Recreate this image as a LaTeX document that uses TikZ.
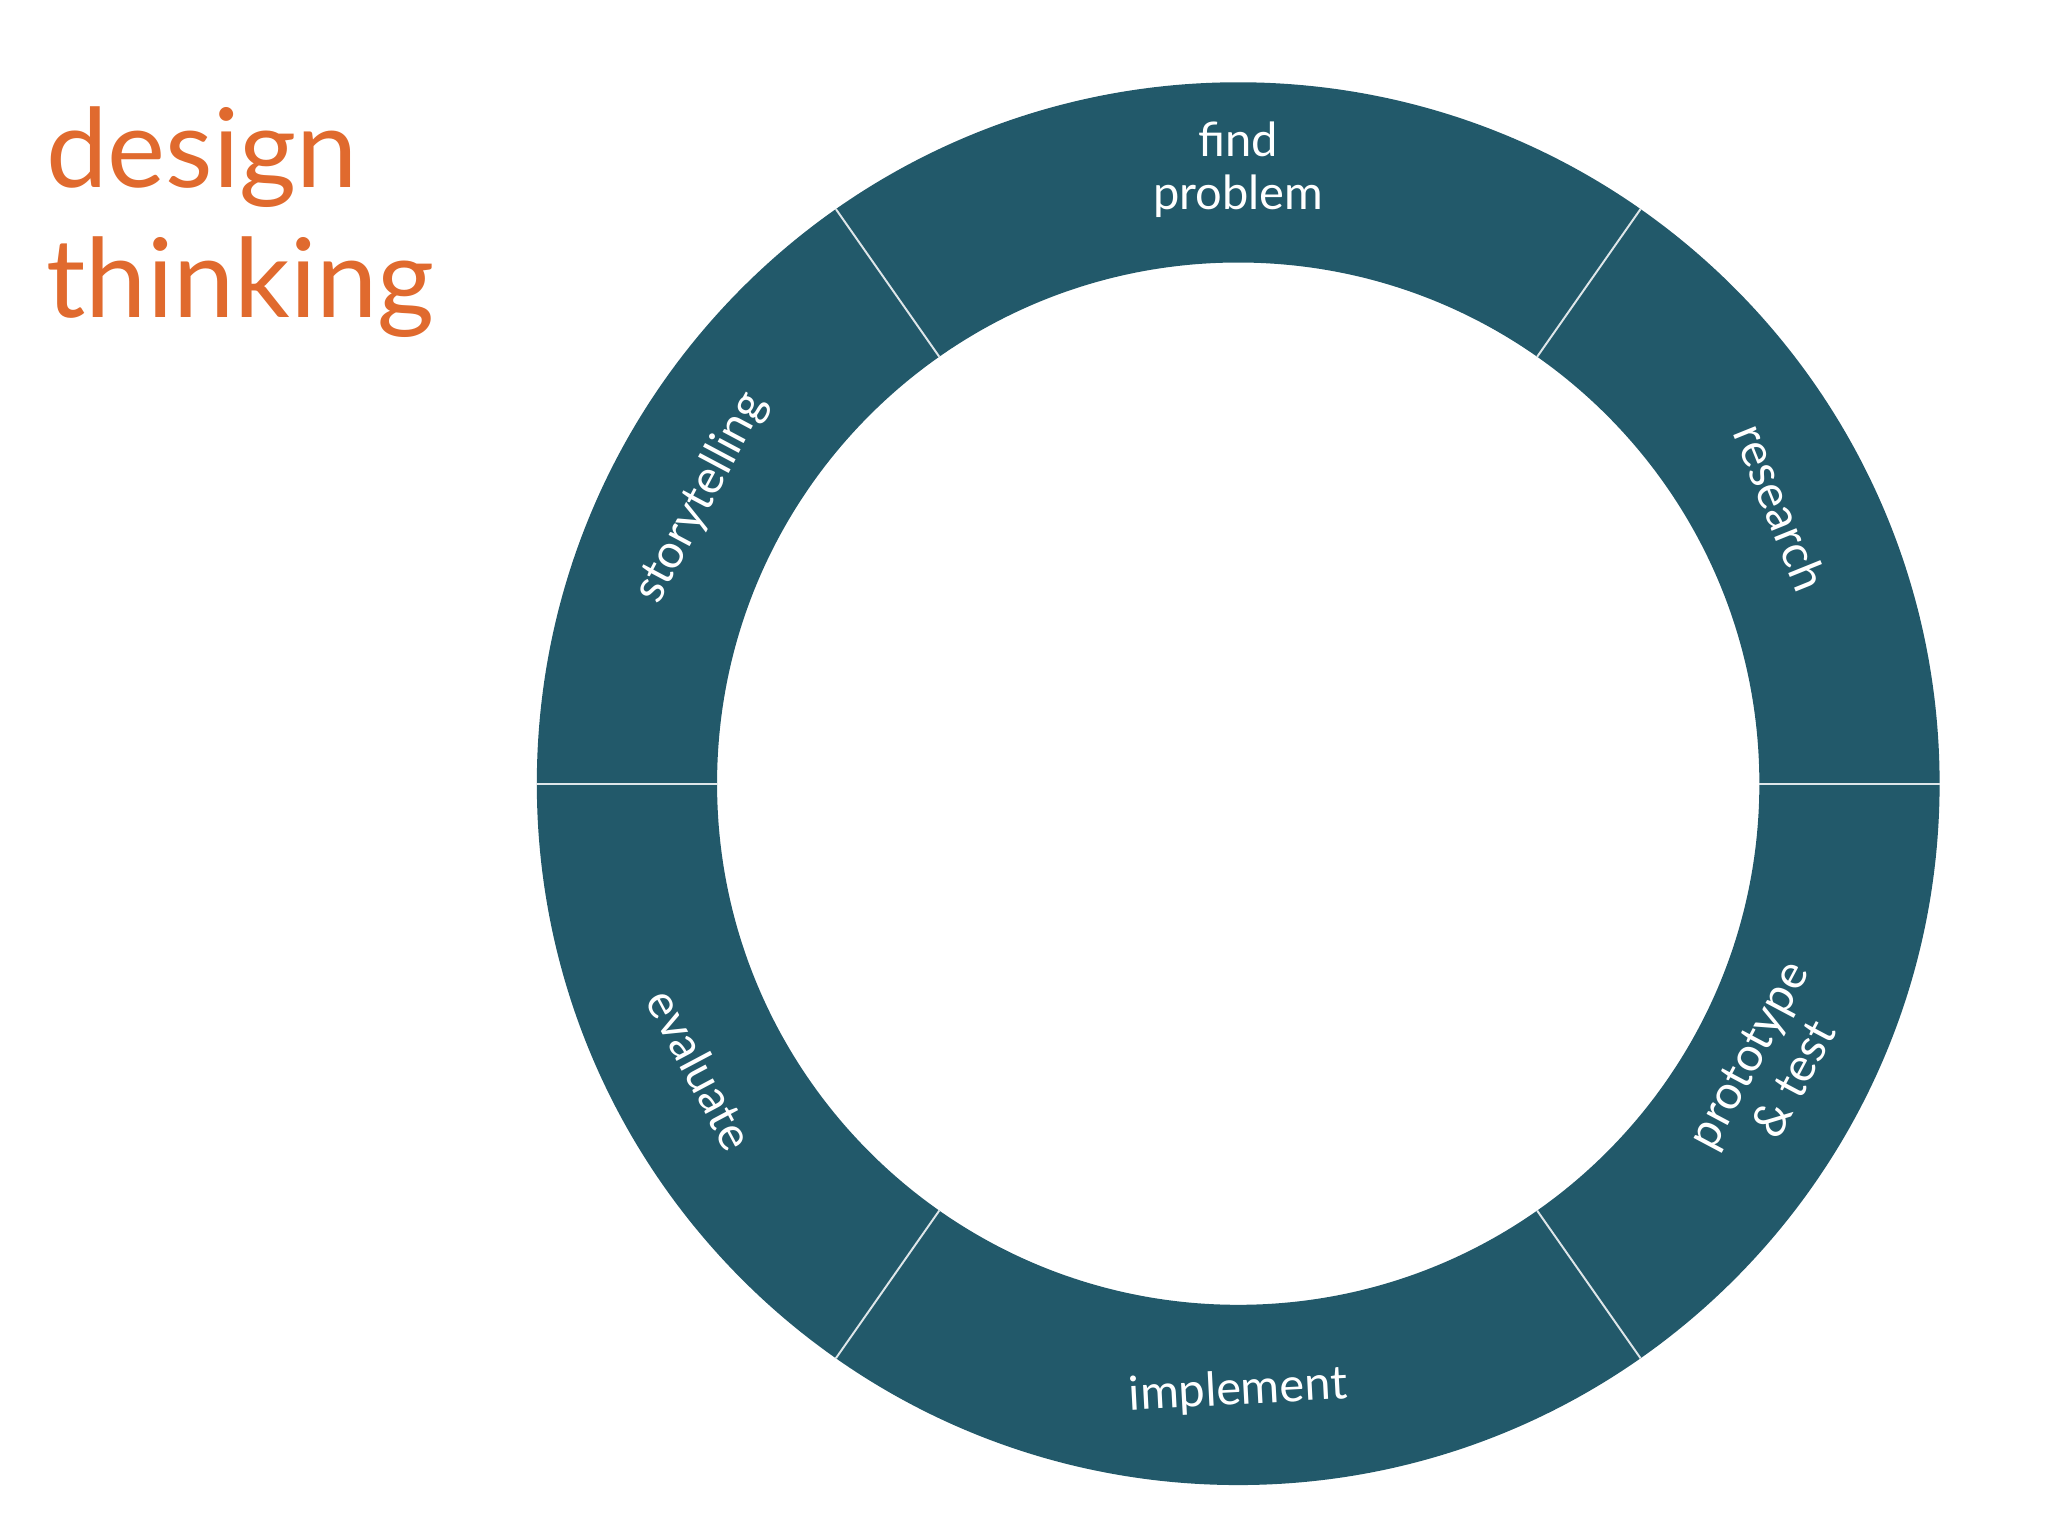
\documentclass[tikz,border=0pt]{standalone}
\usepackage{fontspec}
\setmainfont{Lato}
\usetikzlibrary{calc}
\definecolor{ring}{HTML}{22596A}
\definecolor{ttl}{HTML}{E06A2E}
\begin{document}
\begin{tikzpicture}[x=1pt,y=1pt,
  lbl/.style={text=white,font=\fontsize{36}{40}\selectfont,align=center},
  divider/.style={draw=white!85!ring,line width=1.5pt}]
\useasboundingbox (0,0) rectangle (1568,1176);
\coordinate (c) at (948,576);
\fill[ring,even odd rule] (c) circle (537) (c) circle (399);
\foreach \a in {0,55,125,180,235,305}
  \draw[divider] ($(c)+(\a:399)$) -- ($(c)+(\a:537)$);
\node[anchor=north west,text=ttl,align=left,font=\fontsize{84}{100}\selectfont] (title) at (32,1098) {design\\thinking};
\node[lbl] (p1) at (948,1046) {find\\problem};
\node[lbl,rotate=-68] (p2) at ($(c)+(27:466)$) {research};
\node[lbl,rotate=62] (p3) at ($(c)+(332:462)$) {prototype\\\& test};
\node[lbl,rotate=3] (p4) at ($(c)+(270:465)$) {implement};
\node[lbl,rotate=-62] (p5) at ($(c)+(208:466)$) {evaluate};
\node[lbl,rotate=62] (p6) at ($(c)+(152:466)$) {storytelling};
\end{tikzpicture}
\end{document}
